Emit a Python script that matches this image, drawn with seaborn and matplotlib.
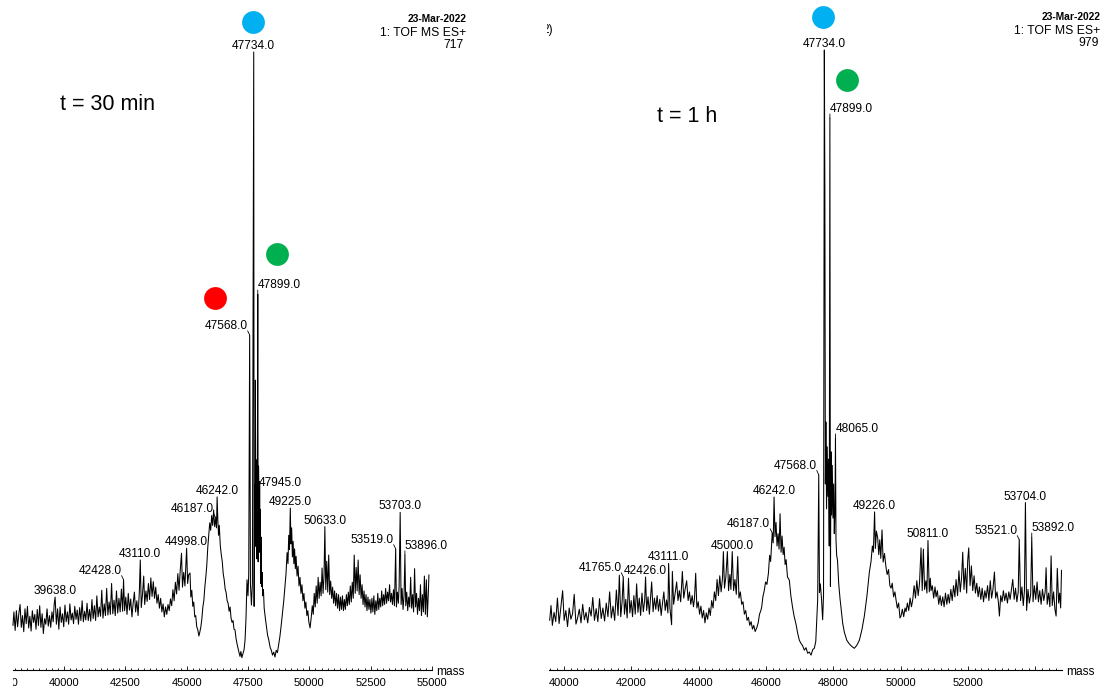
import matplotlib
matplotlib.use("Agg")
import matplotlib.pyplot as plt
import seaborn as sns
import pandas as pd
from matplotlib.transforms import ScaledTranslation, Bbox, TransformedBbox
from matplotlib.ticker import FixedLocator, MultipleLocator, FixedFormatter

# ---------------- data (mass, relative intensity %) ----------------
left_trace = [
    (37920, 7.2), (37960, 9.4), (38010, 6.4), (38060, 9.6), (38110, 7.0), (38160, 9.1), (38210, 10.6), (38260, 6.9), (38310, 8.8), (38360, 6.2),
    (38410, 9.9), (38460, 7.5), (38510, 10.3), (38560, 6.8), (38610, 8.7), (38660, 6.3), (38710, 9.6), (38760, 7.7), (38810, 9.0), (38860, 6.6),
    (38910, 9.8), (38960, 7.2), (39010, 10.4), (39060, 6.9), (39110, 9.1), (39160, 5.9), (39210, 8.3), (39260, 7.4), (39310, 9.9), (39360, 7.1),
    (39410, 8.8), (39460, 6.9), (39510, 9.4), (39560, 7.8), (39600, 10.6), (39638, 11.8), (39690, 7.4), (39740, 9.9), (39790, 6.6), (39840, 10.2),
    (39890, 7.7), (39940, 9.1), (39990, 7.0), (40040, 10.5), (40090, 7.8), (40140, 9.4), (40190, 7.4), (40240, 10.7), (40290, 8.1), (40340, 9.2),
    (40390, 7.5), (40440, 10.3), (40490, 8.2), (40540, 9.7), (40590, 7.4), (40640, 10.1), (40690, 8.0), (40740, 11.2), (40790, 7.8), (40840, 9.5),
    (40890, 8.1), (40940, 10.8), (40990, 8.0), (41040, 9.8), (41090, 7.9), (41140, 11.4), (41190, 8.3), (41240, 10.4), (41290, 8.0), (41340, 12.0),
    (41390, 8.6), (41440, 10.2), (41490, 8.7), (41540, 12.9), (41590, 8.4), (41640, 10.7), (41690, 8.8), (41740, 13.2), (41790, 8.9), (41840, 11.0),
    (41890, 9.0), (41940, 14.0), (41990, 9.1), (42040, 11.3), (42090, 8.8), (42140, 12.8), (42190, 9.2), (42240, 11.6), (42290, 9.4), (42340, 13.1),
    (42390, 9.5), (42428, 14.6), (42470, 9.6), (42520, 11.8), (42570, 9.0), (42620, 12.4), (42670, 9.7), (42720, 11.5), (42770, 8.6), (42820, 10.8),
    (42870, 12.6), (42920, 9.4), (42970, 11.2), (43020, 8.8), (43070, 12.5), (43110, 17.8), (43150, 10.1), (43200, 12.2), (43250, 15.2), (43290, 10.6),
    (43340, 12.8), (43390, 11.1), (43440, 14.0), (43490, 11.4), (43540, 14.9), (43590, 11.9), (43640, 14.3), (43690, 11.6), (43740, 13.4), (43790, 10.8),
    (43840, 12.2), (43890, 10.0), (43940, 11.6), (43990, 9.4), (44040, 10.7), (44090, 8.6), (44140, 10.2), (44190, 9.0), (44240, 10.6), (44290, 9.6),
    (44340, 11.5), (44390, 10.4), (44440, 13.0), (44490, 11.2), (44540, 14.2), (44590, 12.3), (44640, 15.6), (44690, 12.9), (44740, 16.2), (44790, 18.9),
    (44830, 13.4), (44880, 15.8), (44930, 13.6), (44998, 19.7), (45040, 14.0), (45080, 15.4), (45137, 15.7), (45170, 11.8), (45210, 12.9), (45250, 10.3),
    (45290, 11.0), (45330, 8.6), (45370, 8.8), (45410, 7.0), (45450, 6.6), (45500, 5.5), (45540, 6.2), (45580, 7.0), (45620, 8.3), (45660, 10.2),
    (45700, 11.2), (45740, 13.4), (45780, 15.0), (45820, 16.9), (45860, 19.8), (45900, 21.9), (45940, 23.8), (45980, 22.6), (46020, 25.0), (46060, 23.4),
    (46100, 25.9), (46140, 23.2), (46187, 24.6), (46215, 23.0), (46242, 28.0), (46270, 24.4), (46300, 21.8), (46330, 23.4), (46370, 20.2), (46410, 18.7),
    (46450, 17.6), (46490, 15.6), (46530, 14.6), (46570, 13.1), (46610, 12.5), (46650, 11.2), (46690, 10.8), (46730, 9.5), (46770, 10.2), (46810, 8.4),
    (46850, 7.7), (46890, 8.0), (46930, 6.6), (46970, 6.5), (47010, 5.2), (47050, 4.3), (47090, 3.6), (47130, 2.9), (47175, 2.2), (47210, 3.0),
    (47250, 2.0), (47297, 2.7), (47340, 3.3), (47380, 4.8), (47420, 8.5), (47460, 14.6), (47500, 12.0), (47530, 15.5), (47568, 54.2), (47600, 13.9),
    (47640, 10.5), (47680, 14.0), (47734, 100.0), (47750, 10.3), (47770, 30.0), (47790, 21.5), (47802, 46.9), (47820, 20.0), (47840, 34.0), (47860, 18.0),
    (47880, 26.0), (47899, 60.8), (47915, 17.5), (47930, 33.0), (47945, 28.8), (47960, 20.5), (47975, 30.5), (47990, 19.0), (48005, 26.0), (48020, 14.0),
    (48035, 21.5), (48050, 13.5), (48074, 15.8), (48100, 12.0), (48130, 13.0), (48160, 10.0), (48210, 8.3), (48260, 6.8), (48300, 5.6), (48346, 4.9),
    (48400, 3.7), (48450, 3.2), (48500, 2.4), (48550, 2.9), (48600, 2.1), (48650, 3.2), (48700, 2.8), (48754, 4.2), (48800, 5.4), (48850, 7.1),
    (48900, 9.0), (48958, 11.2), (49000, 13.3), (49050, 15.6), (49094, 19.0), (49130, 17.2), (49160, 21.8), (49190, 19.5), (49225, 26.2), (49250, 20.4),
    (49280, 23.0), (49310, 18.3), (49340, 20.8), (49370, 17.2), (49400, 19.6), (49430, 16.4), (49460, 18.4), (49500, 15.2), (49540, 16.8), (49580, 13.6),
    (49620, 15.0), (49660, 12.4), (49700, 13.8), (49740, 11.2), (49780, 12.4), (49820, 10.0), (49860, 11.0), (49900, 8.8), (49940, 9.6), (49980, 7.8),
    (50030, 6.8), (50080, 8.6), (50120, 10.4), (50160, 9.0), (50200, 12.4), (50240, 10.2), (50280, 13.6), (50320, 10.8), (50360, 15.0), (50400, 11.6),
    (50440, 14.2), (50480, 12.0), (50520, 16.5), (50560, 12.4), (50600, 15.4), (50633, 23.2), (50670, 13.0), (50710, 17.6), (50750, 12.6), (50790, 18.6),
    (50830, 12.2), (50870, 14.4), (50910, 11.6), (50950, 13.4), (50990, 10.8), (51030, 12.8), (51070, 10.4), (51110, 12.4), (51150, 10.0), (51190, 12.2),
    (51230, 9.6), (51270, 11.8), (51310, 9.8), (51350, 12.0), (51390, 9.6), (51430, 11.4), (51470, 9.8), (51510, 12.2), (51550, 10.4), (51590, 12.6),
    (51630, 10.6), (51670, 13.6), (51710, 11.0), (51750, 14.2), (51790, 11.6), (51830, 18.6), (51870, 12.4), (51910, 16.6), (51950, 12.8), (51990, 17.8),
    (52030, 12.2), (52070, 15.4), (52110, 11.6), (52150, 13.8), (52190, 10.6), (52230, 12.8), (52270, 10.2), (52310, 12.2), (52350, 9.6), (52390, 11.8),
    (52430, 9.8), (52470, 11.4), (52510, 9.2), (52550, 11.6), (52590, 9.4), (52630, 12.0), (52670, 9.0), (52710, 11.2), (52750, 9.6), (52790, 12.4),
    (52830, 9.8), (52870, 11.6), (52910, 10.2), (52950, 12.8), (52990, 10.4), (53030, 12.2), (53070, 10.6), (53110, 13.2), (53150, 10.8), (53190, 12.6),
    (53230, 11.2), (53270, 13.8), (53310, 11.0), (53350, 12.4), (53390, 10.6), (53430, 13.0), (53470, 10.4), (53519, 19.6), (53550, 10.2), (53590, 12.6),
    (53630, 10.8), (53660, 13.6), (53703, 25.5), (53740, 10.6), (53780, 13.2), (53820, 9.8), (53860, 12.0), (53896, 18.6), (53930, 10.4), (53970, 12.6),
    (54010, 9.6), (54050, 11.8), (54090, 10.2), (54130, 15.0), (54170, 10.0), (54210, 12.2), (54250, 9.4), (54290, 16.4), (54330, 10.2), (54370, 12.4),
    (54410, 9.0), (54450, 11.6), (54490, 9.6), (54530, 13.8), (54570, 8.8), (54610, 12.2), (54650, 9.4), (54690, 15.2), (54730, 9.0), (54770, 14.6),
    (54810, 8.6), (54850, 12.4), (54875, 15.4),
]

right_trace = [
    (39580, 8.0), (39620, 10.4), (39660, 7.2), (39710, 9.3), (39760, 7.8), (39810, 11.6), (39860, 7.5), (39910, 10.0), (39965, 12.8), (40010, 8.0),
    (40060, 9.6), (40110, 7.0), (40160, 10.0), (40210, 8.2), (40260, 9.1), (40308, 12.2), (40360, 7.4), (40410, 8.4), (40460, 9.8), (40510, 7.6),
    (40560, 10.6), (40610, 8.1), (40660, 9.3), (40710, 7.6), (40760, 10.1), (40810, 8.7), (40860, 11.7), (40910, 8.0), (40960, 9.9), (41010, 7.8),
    (41060, 11.5), (41110, 8.3), (41160, 10.0), (41210, 7.9), (41260, 10.8), (41310, 8.6), (41360, 12.6), (41410, 8.4), (41460, 10.3), (41510, 8.0),
    (41560, 12.9), (41610, 8.8), (41648, 15.3), (41690, 8.6), (41730, 11.0), (41765, 15.0), (41800, 9.0), (41840, 11.4), (41880, 8.4), (41920, 14.8),
    (41960, 9.2), (42000, 11.2), (42040, 8.6), (42080, 12.0), (42120, 9.0), (42162, 13.9), (42200, 9.3), (42240, 11.6), (42280, 8.8), (42320, 12.4),
    (42360, 9.4), (42400, 11.2), (42426, 15.0), (42460, 9.6), (42500, 11.8), (42540, 9.0), (42580, 12.2), (42608, 14.2), (42650, 9.4), (42690, 11.6),
    (42730, 9.8), (42770, 12.0), (42810, 9.5), (42850, 11.4), (42890, 8.8), (42930, 10.8), (42970, 12.6), (43010, 9.6), (43050, 11.3), (43090, 9.2),
    (43111, 17.2), (43150, 10.0), (43200, 7.3), (43222, 15.9), (43260, 10.6), (43300, 12.2), (43350, 14.2), (43390, 11.2), (43430, 12.8), (43470, 11.0),
    (43519, 15.9), (43560, 11.6), (43600, 13.0), (43647, 14.4), (43690, 11.2), (43730, 12.6), (43770, 10.6), (43810, 12.0), (43850, 10.2), (43880, 11.6),
    (43915, 15.6), (43950, 10.0), (43990, 11.0), (44030, 9.0), (44070, 10.3), (44110, 8.4), (44150, 9.6), (44190, 7.6), (44230, 9.2), (44270, 8.2),
    (44310, 10.0), (44350, 8.8), (44390, 11.2), (44430, 10.0), (44470, 12.6), (44510, 11.2), (44550, 14.6), (44590, 12.0), (44630, 15.2), (44670, 12.6),
    (44710, 14.8), (44737, 19.1), (44770, 13.2), (44810, 15.0), (44856, 19.1), (44890, 12.8), (44930, 15.4), (44960, 13.0), (45000, 19.1), (45040, 12.8),
    (45080, 14.6), (45120, 12.2), (45163, 18.3), (45200, 11.6), (45240, 12.6), (45282, 10.6), (45320, 11.0), (45360, 9.0), (45400, 9.6), (45440, 8.0),
    (45480, 8.5), (45520, 7.2), (45560, 7.8), (45600, 6.6), (45640, 7.2), (45680, 6.2), (45728, 6.8), (45770, 7.6), (45810, 9.0), (45850, 9.6),
    (45876, 10.2), (45910, 11.8), (45950, 12.8), (45990, 14.2), (46030, 13.8), (46074, 15.6), (46110, 18.5), (46140, 17.5), (46187, 22.1), (46215, 20.5),
    (46242, 27.9), (46270, 21.5), (46300, 23.8), (46330, 20.0), (46360, 22.0), (46390, 19.5), (46420, 25.2), (46450, 19.0), (46480, 21.6), (46510, 18.6),
    (46540, 19.8), (46570, 17.0), (46600, 17.8), (46640, 15.0), (46694, 14.5), (46740, 12.0), (46794, 10.0), (46840, 8.6), (46893, 7.4), (46940, 6.0),
    (46992, 4.8), (47040, 4.3), (47090, 3.9), (47140, 3.2), (47190, 3.6), (47240, 2.7), (47288, 2.9), (47340, 2.4), (47390, 3.3), (47437, 3.5),
    (47480, 4.6), (47510, 8.0), (47536, 11.3), (47568, 31.5), (47590, 12.5), (47615, 13.9), (47650, 11.5), (47684, 8.1), (47710, 12.0), (47734, 100.0),
    (47750, 77.0), (47765, 30.0), (47780, 40.0), (47800, 26.0), (47820, 36.0), (47840, 28.0), (47860, 34.0), (47880, 20.0), (47899, 89.0), (47915, 13.5),
    (47932, 35.2), (47950, 25.0), (47970, 33.0), (47990, 24.5), (48010, 30.0), (48030, 22.0), (48050, 26.0), (48065, 37.4), (48080, 21.0), (48100, 18.5),
    (48125, 17.7), (48160, 14.0), (48200, 11.5), (48229, 10.0), (48280, 7.5), (48328, 6.1), (48400, 4.8), (48477, 4.2), (48550, 3.8), (48625, 3.5),
    (48700, 4.0), (48774, 4.8), (48850, 6.5), (48922, 8.7), (49000, 12.0), (49071, 15.8), (49120, 17.5), (49160, 20.0), (49190, 19.0), (49226, 25.5),
    (49250, 19.6), (49280, 22.4), (49318, 21.3), (49350, 18.6), (49380, 21.0), (49410, 18.0), (49447, 22.6), (49480, 17.4), (49520, 18.8), (49566, 16.5),
    (49600, 15.4), (49640, 16.2), (49680, 13.6), (49714, 13.2), (49750, 14.0), (49790, 11.8), (49830, 12.6), (49863, 11.3), (49900, 10.0), (49940, 10.8),
    (49980, 8.4), (50011, 8.7), (50050, 9.8), (50090, 8.6), (50130, 10.0), (50160, 9.4), (50200, 10.8), (50240, 9.6), (50280, 11.6), (50320, 10.2),
    (50358, 11.3), (50400, 13.6), (50440, 11.6), (50480, 14.4), (50520, 12.0), (50560, 14.0), (50605, 19.7), (50640, 12.8), (50674, 19.5), (50710, 13.0),
    (50750, 14.4), (50780, 12.4), (50811, 20.9), (50850, 12.6), (50880, 14.8), (50902, 12.8), (50940, 13.6), (50980, 11.6), (51020, 13.4), (51051, 11.8),
    (51090, 12.8), (51130, 10.6), (51170, 12.0), (51210, 10.4), (51249, 11.8), (51290, 10.2), (51330, 12.4), (51370, 10.6), (51410, 12.2), (51447, 10.8),
    (51490, 13.0), (51530, 11.2), (51570, 13.6), (51610, 11.8), (51645, 14.6), (51690, 12.0), (51730, 16.0), (51770, 12.6), (51810, 15.0), (51843, 19.0),
    (51880, 13.0), (51920, 16.4), (51960, 12.4), (51990, 17.6), (52021, 19.7), (52060, 13.6), (52100, 16.8), (52140, 12.8), (52180, 15.2), (52220, 12.4),
    (52260, 14.0), (52300, 11.8), (52338, 13.4), (52380, 11.4), (52420, 13.2), (52460, 11.0), (52500, 12.8), (52537, 11.6), (52580, 13.6), (52620, 11.2),
    (52660, 14.4), (52700, 11.6), (52740, 13.0), (52784, 15.8), (52820, 11.6), (52860, 12.6), (52900, 11.0), (52932, 8.7), (52970, 12.0), (53010, 11.0),
    (53050, 12.8), (53090, 11.2), (53130, 12.4), (53170, 10.8), (53210, 12.6), (53250, 11.4), (53290, 13.0), (53328, 14.6), (53370, 11.4), (53410, 13.2),
    (53450, 11.0), (53490, 12.6), (53521, 21.0), (53560, 11.2), (53600, 13.4), (53640, 10.4), (53675, 12.8), (53704, 27.0), (53740, 9.6), (53780, 13.0),
    (53820, 10.8), (53860, 12.2), (53892, 21.4), (53930, 11.0), (53970, 13.6), (54010, 11.4), (54050, 14.2), (54090, 11.0), (54130, 12.8), (54170, 10.6),
    (54210, 13.0), (54250, 11.2), (54290, 12.6), (54318, 16.5), (54350, 10.6), (54390, 12.4), (54430, 10.2), (54467, 18.4), (54500, 10.4), (54540, 12.6),
    (54580, 9.8), (54615, 8.7), (54650, 16.4), (54690, 10.8), (54720, 12.4), (54750, 10.0), (54775, 16.1),
]

left_peaks = [39638, 42428, 43110, 44998, 46187, 46242, 47568, 47734, 47899, 47945, 49225, 50633, 53519, 53703, 53896]
left_peak_side = ["c", "l", "c", "c", "l", "c", "l", "c", "r", "r", "c", "c", "l", "c", "r"]
right_peaks = [41765, 42426, 43111, 45000, 46187, 46242, 47568, 47734, 47899, 48065, 49226, 50811, 53521, 53704, 53892]
right_peak_side = ["l", "c", "c", "c", "l", "c", "l", "c", "r", "r", "c", "c", "l", "c", "r"]

left_ticks = [40000, 42500, 45000, 47500, 50000, 52500, 55000]
left_tick_labels = ["40000", "42500", "45000", "47500", "50000", "52500", "55000"]
right_ticks = [40000, 42000, 44000, 46000, 48000, 50000, 52000, 54000]
right_tick_labels = ["40000", "42000", "44000", "46000", "48000", "50000", "52000", ""]

left_header = ["23-Mar-2022", "1: TOF MS ES+", "717"]
right_header = ["23-Mar-2022", "1: TOF MS ES+", "979"]
left_title = "t = 30 min"
right_title = "t = 1 h"

# circle markers: (peak mass, colour)
left_marks = [(47734, "#00B0F0"), (47899, "#00B050"), (47568, "#FF0000")]
right_marks = [(47734, "#00B0F0"), (47899, "#00B050")]

# ---------------- style ----------------
sns.set_theme(style="white")
plt.rcParams["font.family"] = ["Liberation Sans", "DejaVu Sans"]

W, H = 1106, 690
fig = plt.figure(figsize=(W / 100, H / 100), dpi=100)


def box(x0, y0, x1, y1):
    return [x0 / W, 1 - y1 / H, (x1 - x0) / W, (y1 - y0) / H]


axL = fig.add_axes(box(12.7, 52, 432, 670))
axR = fig.add_axes(box(549, 50, 1062, 670))

LABEL_FS = 8.6
HEAD_FS = 8.8
TICK_FS = 8.0


def draw_panel(ax, trace, xlim, ticks, tick_labels, minor, peaks, sides):
    df = pd.DataFrame(trace, columns=["mass", "intensity"])
    sns.lineplot(data=df, x="mass", y="intensity", ax=ax, color="black",
                 linewidth=0.75, estimator=None, sort=False, legend=False)
    for ln in ax.lines:
        ln.set_clip_on(False)
    ax.set_xlim(*xlim)
    ax.set_ylim(0, 100)
    ax.set_xlabel("")
    ax.set_ylabel("")
    ax.set_yticks([])
    ax.patch.set_alpha(0)
    for s in ["left", "right", "top"]:
        ax.spines[s].set_visible(False)
    ax.spines["bottom"].set_color("black")
    ax.spines["bottom"].set_linewidth(0.8)
    ax.xaxis.set_major_locator(FixedLocator(ticks))
    ax.xaxis.set_major_formatter(FixedFormatter(tick_labels))
    ax.xaxis.set_minor_locator(MultipleLocator(minor))
    ax.tick_params(axis="x", which="major", direction="in", length=3.0, width=0.6,
                   colors="black", labelsize=TICK_FS, pad=5.5, bottom=True)
    ax.tick_params(axis="x", which="minor", direction="in", length=1.6, width=0.6,
                   colors="black", bottom=True)
    # "mass" axis caption at the end of the axis line
    ax.text(1.0, 0.0, "mass", transform=ax.transAxes + ScaledTranslation(4 / 100, -2 / 100, fig.dpi_scale_trans),
            ha="left", va="center", fontsize=LABEL_FS, color="black")
    lookup = dict(trace)
    for m, side in zip(peaks, sides):
        y = lookup[m]
        txt = f"{m:.1f}"
        if side == "c":
            ax.annotate(txt, (m, y), xytext=(0, 3), textcoords="offset pixels",
                        ha="center", va="baseline", fontsize=LABEL_FS, color="black",
                        annotation_clip=False)
        elif side == "l":
            ax.annotate(txt, (m, y), xytext=(-2, 6), textcoords="offset pixels",
                        ha="right", va="baseline", fontsize=LABEL_FS, color="black",
                        annotation_clip=False,
                        arrowprops=dict(arrowstyle="-", lw=0.6, color="black",
                                        shrinkA=0, shrinkB=0, relpos=(1.0, 0.1)))
        else:
            ax.annotate(txt, (m, y), xytext=(0, 6), textcoords="offset pixels",
                        ha="left", va="baseline", fontsize=LABEL_FS, color="black",
                        annotation_clip=False,
                        arrowprops=dict(arrowstyle="-", lw=0.6, color="black",
                                        shrinkA=0, shrinkB=0, relpos=(0.0, 0.1)))
    return lookup


lookL = draw_panel(axL, left_trace, (37910, 55000), left_ticks, left_tick_labels, 250,
                   left_peaks, left_peak_side)
lookR = draw_panel(axR, right_trace, (39560, 54790), right_ticks, right_tick_labels, 200,
                   right_peaks, right_peak_side)

# partially visible tick label at the left edge of the left axis
t = axL.annotate("37500", xy=(37500, 0), xycoords=("data", "axes fraction"),
                 xytext=(0, -5.5), textcoords="offset points", ha="center", va="top",
                 fontsize=TICK_FS, color="black", annotation_clip=False)
t.set_clip_box(TransformedBbox(Bbox([[12.7 / W, 0], [1, 1]]), fig.transFigure))
t.set_clip_on(True)


def mark(ax, m, y, dx, dy, color):
    tr = ax.transData + ScaledTranslation(dx / 100, dy / 100, fig.dpi_scale_trans)
    ax.scatter([m], [y], s=270, color=color, transform=tr, clip_on=False,
               zorder=5, linewidths=0)


left_offsets = [(-1, 30), (19, 40), (-35, 37)]
for (m, c), (dx, dy) in zip(left_marks, left_offsets):
    mark(axL, m, lookL[m], dx, dy, c)
right_offsets = [(-1, 33), (17, 38)]
for (m, c), (dx, dy) in zip(right_marks, right_offsets):
    mark(axR, m, lookR[m], dx, dy, c)

# headers
def ftext(x, y, s, **kw):
    return fig.text(x / W, 1 - y / H, s, color="black", **kw)

ftext(466, 19, left_header[0], ha="right", va="center", fontsize=7.4, fontweight="bold")
ftext(466, 32.5, left_header[1], ha="right", va="center", fontsize=HEAD_FS)
ftext(464, 45, left_header[2], ha="right", va="center", fontsize=HEAD_FS)
ftext(1100, 17.5, right_header[0], ha="right", va="center", fontsize=7.4, fontweight="bold")
ftext(1100, 30.5, right_header[1], ha="right", va="center", fontsize=HEAD_FS)
ftext(1099, 43, right_header[2], ha="right", va="center", fontsize=HEAD_FS)

ftext(107, 105, left_title, ha="center", va="center", fontsize=15.5)
ftext(687, 116, right_title, ha="center", va="center", fontsize=15.5)

frag = ftext(553, 30, "2)", ha="right", va="center", fontsize=LABEL_FS)
frag.set_clip_box(TransformedBbox(Bbox([[546.5 / W, 0], [1, 1]]), fig.transFigure))
frag.set_clip_on(True)

fig.savefig("out.png", dpi=100)
